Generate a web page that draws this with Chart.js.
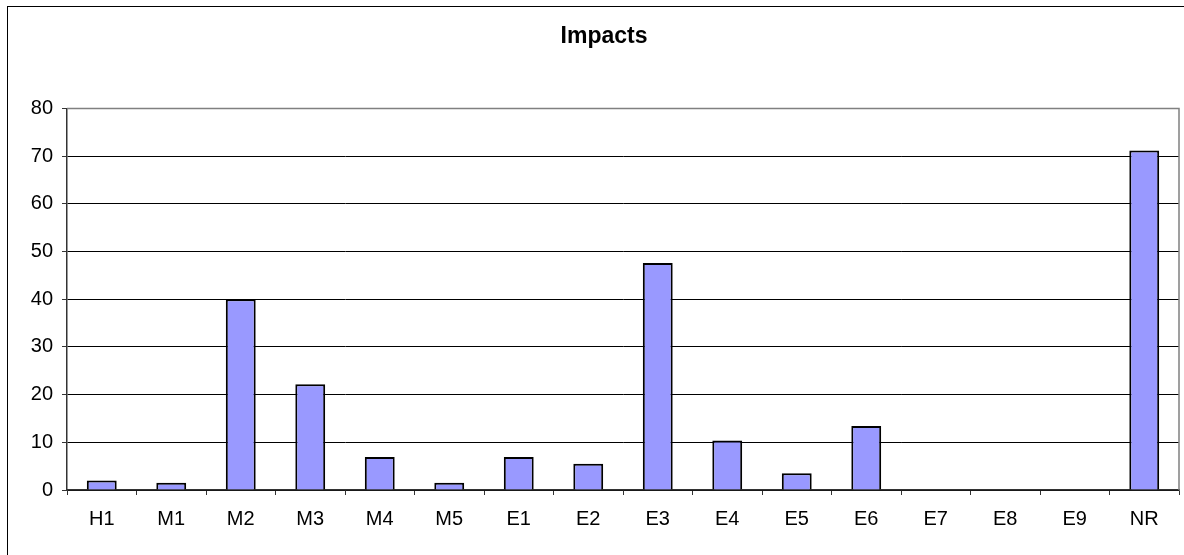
<!DOCTYPE html>
<html>
<head>
<meta charset="utf-8">
<title>Impacts</title>
<script src="https://cdn.jsdelivr.net/npm/chart.js@4/dist/chart.umd.min.js"></script>
<style>
  html, body { margin: 0; padding: 0; background: #fff; overflow: hidden; }
  #wrap { position: relative; width: 1184px; height: 555px; }
  #frame { position: absolute; left: 7px; top: 6px; width: 1300px; height: 700px; border: 1px solid #000; box-sizing: border-box; }
  #chart { position: absolute; left: 0; top: 0; }
</style>
</head>
<body>
<div id="wrap">
  <div id="frame"></div>
  <canvas id="chart" width="1184" height="555"></canvas>
</div>
<script>
// Impact counts per category
const categories = ['H1', 'M1', 'M2', 'M3', 'M4', 'M5', 'E1', 'E2', 'E3', 'E4', 'E5', 'E6', 'E7', 'E8', 'E9', 'NR'];
const impactValues = [2, 1.5, 40, 22.2, 6.9, 1.5, 6.9, 5.5, 47.6, 10.4, 3.5, 13.4, 0, 0, 0, 71.2];
const yTicks = [0, 10, 20, 30, 40, 50, 60, 70, 80];

const FONT = '"Liberation Sans", Arial, sans-serif';

// Gray frame on the top and right sides of the plot area
const plotFrame = {
  id: 'plotFrame',
  beforeDatasetsDraw(chart) {
    const { ctx, chartArea: a } = chart;
    ctx.save();
    ctx.strokeStyle = '#808080';
    ctx.lineWidth = 1.5;
    ctx.beginPath();
    ctx.moveTo(a.left, a.top);
    ctx.lineTo(a.right, a.top);
    ctx.lineTo(a.right, a.bottom);
    ctx.stroke();
    ctx.restore();
  }
};

new Chart(document.getElementById('chart'), {
  type: 'bar',
  data: {
    labels: categories,
    datasets: [{
      label: 'Impacts',
      data: impactValues,
      backgroundColor: '#9999FF',
      borderColor: '#000000',
      borderWidth: 2,
      barPercentage: 0.43,
      categoryPercentage: 1.0
    }]
  },
  options: {
    responsive: false,
    animation: false,
    devicePixelRatio: 1,
    layout: { padding: { left: 29, right: 5, top: 0, bottom: 0 } },
    plugins: {
      legend: { display: false },
      tooltip: { enabled: false },
      title: {
        display: true,
        text: 'Impacts',
        color: '#000',
        font: { family: FONT, size: 23, weight: 'bold', lineHeight: 1.2 },
        padding: { top: 23, bottom: 58 }
      }
    },
    scales: {
      x: {
        offset: true,
        grid: {
          offset: true,
          drawOnChartArea: false,
          drawTicks: true,
          tickLength: 5,
          tickColor: '#333',
          tickWidth: 1
        },
        border: { display: true, color: '#333', width: 1.5 },
        ticks: {
          color: '#000',
          padding: 12,
          maxRotation: 0,
          autoSkip: false,
          font: { family: FONT, size: 20 }
        },
        afterFit(scale) { scale.height = 65; }
      },
      y: {
        min: 0,
        max: 80,
        afterBuildTicks(scale) { scale.ticks = yTicks.map(v => ({ value: v })); },
        grid: {
          color: ctx => (ctx.tick && ctx.tick.value === 80) ? '#808080' : '#000',
          lineWidth: 1,
          tickLength: 5,
          tickColor: '#333',
          drawTicks: true
        },
        border: { display: true, color: '#333', width: 1.5 },
        ticks: {
          color: '#000',
          padding: 9,
          font: { family: FONT, size: 20 }
        },
        afterFit(scale) { scale.width = 38; }
      }
    }
  },
  plugins: [plotFrame]
});
</script>
</body>
</html>
